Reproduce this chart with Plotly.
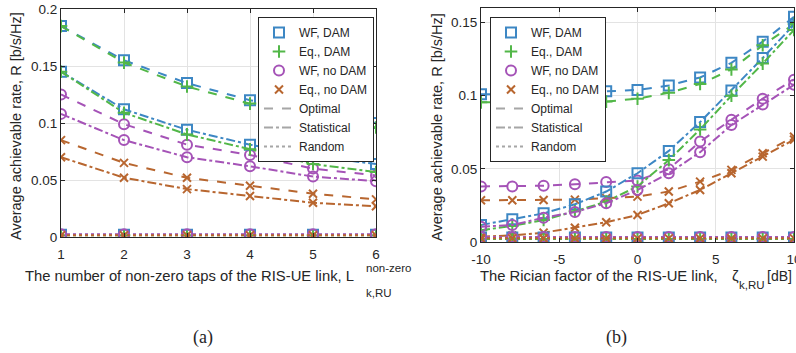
import plotly.graph_objects as go

# ---------------- data ----------------
taps = [1, 2, 3, 4, 5, 6]
wf_dam_opt_a = [0.185, 0.155, 0.135, 0.120, 0.109, 0.100]
eq_dam_opt_a = [0.185, 0.153, 0.132, 0.117, 0.106, 0.096]
wf_dam_stat_a = [0.145, 0.112, 0.094, 0.081, 0.071, 0.064]
eq_dam_stat_a = [0.145, 0.109, 0.090, 0.077, 0.064, 0.057]
wf_nodam_opt_a = [0.125, 0.099, 0.081, 0.072, 0.060, 0.054]
wf_nodam_stat_a = [0.108, 0.085, 0.070, 0.062, 0.053, 0.049]
eq_nodam_opt_a = [0.085, 0.065, 0.052, 0.045, 0.038, 0.033]
eq_nodam_stat_a = [0.070, 0.052, 0.042, 0.036, 0.030, 0.027]
wf_dam_rand_a = [0.002, 0.002, 0.002, 0.002, 0.002, 0.002]
eq_dam_rand_a = [0.0015, 0.0015, 0.0015, 0.0015, 0.0015, 0.0015]
wf_nodam_rand_a = [0.0025, 0.0025, 0.0025, 0.0025, 0.0025, 0.0025]
eq_nodam_rand_a = [0.0015, 0.0015, 0.0015, 0.0015, 0.0015, 0.0015]

zeta = [-10, -8, -6, -4, -2, 0, 2, 4, 6, 8, 10]
wf_dam_opt_b = [0.101, 0.101, 0.1015, 0.102, 0.103, 0.104, 0.107, 0.1125, 0.1225, 0.137, 0.154]
eq_dam_opt_b = [0.0955, 0.0955, 0.0957, 0.096, 0.096, 0.098, 0.102, 0.108, 0.118, 0.1345, 0.149]
wf_dam_stat_b = [0.0116, 0.0155, 0.0196, 0.0258, 0.0345, 0.047, 0.0623, 0.082, 0.1036, 0.1258, 0.1486]
eq_dam_stat_b = [0.008, 0.011, 0.015, 0.021, 0.0276, 0.038, 0.056, 0.077, 0.100, 0.122, 0.145]
wf_nodam_opt_b = [0.038, 0.038, 0.0385, 0.0395, 0.041, 0.042, 0.0498, 0.0687, 0.0836, 0.098, 0.111]
wf_nodam_stat_b = [0.0105, 0.0116, 0.0166, 0.0205, 0.0265, 0.0356, 0.047, 0.0614, 0.080, 0.094, 0.1075]
eq_nodam_opt_b = [0.0285, 0.0285, 0.0287, 0.029, 0.030, 0.031, 0.0345, 0.0413, 0.0493, 0.0607, 0.072]
eq_nodam_stat_b = [0.0036, 0.0045, 0.0064, 0.0098, 0.0135, 0.0185, 0.0265, 0.0356, 0.047, 0.0584, 0.070]
wf_dam_rand_b = [0.003] * 11
eq_dam_rand_b = [0.002] * 11
wf_nodam_rand_b = [0.0035] * 11
eq_nodam_rand_b = [0.0025] * 11

xticks_b = [-10, -5, 0, 5, 10]
xticklabels_b = ["-10", "-5", "0", "5", "10"]
yticks_a = [0, 0.05, 0.1, 0.15, 0.2]
yticklabels_a = ["0", "0.05", "0.1", "0.15", "0.2"]
yticks_b = [0, 0.05, 0.1, 0.15]
yticklabels_b = ["0", "0.05", "0.1", "0.15"]

legend_labels = ["WF, DAM", "Eq., DAM", "WF, no DAM", "Eq., no DAM"]
scheme_labels = ["Optimal", "Statistical", "Random"]

# ---------------- styles ----------------
BLUE = "#3d87c4"
GREEN = "#52b748"
PURPLE = "#a553b7"
BROWN = "#b8662f"
GREY = "#a6a6a6"
TXT = "#262626"
FONT = "Liberation Sans"

series_style = [
    dict(color=BLUE, symbol="square-open", size=10),
    dict(color=GREEN, symbol="cross-thin-open", size=9),
    dict(color=PURPLE, symbol="circle-open", size=10),
    dict(color=BROWN, symbol="x-thin-open", size=8),
]
dash_styles = ["dash", "dashdot", "dot"]

fig = go.Figure()

def add_panel(xs, groups, xa, ya):
    for s_idx, group in enumerate(groups):
        for i, ys in enumerate(group):
            st = series_style[i]
            fig.add_trace(go.Scatter(
                x=xs, y=ys, mode="lines+markers",
                line=dict(color=st["color"], width=2, dash=dash_styles[s_idx]),
                marker=dict(symbol=st["symbol"], size=st["size"], color=st["color"],
                            line=dict(color=st["color"], width=2)),
                xaxis=xa, yaxis=ya, showlegend=False, hoverinfo="skip"))

add_panel(taps, [
    [wf_dam_opt_a, eq_dam_opt_a, wf_nodam_opt_a, eq_nodam_opt_a],
    [wf_dam_stat_a, eq_dam_stat_a, wf_nodam_stat_a, eq_nodam_stat_a],
    [wf_dam_rand_a, eq_dam_rand_a, wf_nodam_rand_a, eq_nodam_rand_a],
], "x", "y")
add_panel(zeta, [
    [wf_dam_opt_b, eq_dam_opt_b, wf_nodam_opt_b, eq_nodam_opt_b],
    [wf_dam_stat_b, eq_dam_stat_b, wf_nodam_stat_b, eq_nodam_stat_b],
    [wf_dam_rand_b, eq_dam_rand_b, wf_nodam_rand_b, eq_nodam_rand_b],
], "x2", "y2")

for lg, xa, ya in [("legend", "x", "y"), ("legend2", "x2", "y2")]:
    for i, lab in enumerate(legend_labels):
        st = series_style[i]
        fig.add_trace(go.Scatter(
            x=[None], y=[None], mode="markers", name=lab, legend=lg,
            marker=dict(symbol=st["symbol"], size=st["size"], color=st["color"],
                        line=dict(color=st["color"], width=2)),
            xaxis=xa, yaxis=ya))
    for s_idx, lab in enumerate(scheme_labels):
        fig.add_trace(go.Scatter(
            x=[None], y=[None], mode="lines", name=lab, legend=lg,
            line=dict(color=GREY, width=2, dash=dash_styles[s_idx]),
            xaxis=xa, yaxis=ya))

W, H = 796, 353
def px_x(p):
    return p / W
def px_y(p):
    return 1 - p / H

axis_common = dict(
    showline=True, linecolor=TXT, linewidth=1, mirror="ticks",
    ticks="inside", ticklen=4, tickcolor=TXT,
    showgrid=True, gridcolor="#e3e3e3", gridwidth=1,
    zeroline=False, tickfont=dict(family=FONT, size=13.5, color=TXT),
    automargin=False, ticklabeloverflow="allow",
)

legend_common = dict(
    bgcolor="white", bordercolor=TXT, borderwidth=1,
    font=dict(family=FONT, size=12, color=TXT),
    xanchor="left", yanchor="top", tracegroupgap=0,
    itemwidth=30,
)

fig.update_layout(
    width=W, height=H, autosize=False,
    margin=dict(l=0, r=0, t=0, b=0, pad=0, autoexpand=False),
    paper_bgcolor="white", plot_bgcolor="white",
    font=dict(family=FONT, color=TXT),
    xaxis=dict(domain=[px_x(61), px_x(376)], range=[1, 6], tickvals=taps,
               anchor="y", ticklabelstandoff=5, **axis_common),
    yaxis=dict(domain=[px_y(237), px_y(9)], range=[0, 0.2],
               tickvals=yticks_a, ticktext=yticklabels_a,
               anchor="x", **axis_common),
    xaxis2=dict(domain=[px_x(481), px_x(794)], range=[-10, 10],
                tickvals=xticks_b, ticktext=xticklabels_b,
                anchor="y2", ticklabelstandoff=5, **axis_common),
    yaxis2=dict(domain=[px_y(242), px_y(8)], range=[0, 0.16],
                tickvals=yticks_b, ticktext=yticklabels_b,
                anchor="x2", **axis_common),
    legend=dict(x=px_x(258), y=px_y(17), **legend_common),
    legend2=dict(x=px_x(490), y=px_y(17), **legend_common),
)

ann = []
def text(x, y, s, size=14.5, angle=0, family=FONT, xanchor="center"):
    ann.append(dict(x=px_x(x), y=px_y(y), xref="paper", yref="paper", text=s,
                    showarrow=False, textangle=angle, xanchor=xanchor, yanchor="middle",
                    font=dict(family=family, size=size, color=TXT)))

text(16, 126, "Average achievable rate, R [b/s/Hz]", angle=-90)
text(437, 127, "Average achievable rate, R [b/s/Hz]", angle=-90)
text(23, 276, "The number of non-zero taps of the RIS-UE link, L", size=14.8, xanchor="left")
text(364, 268, "non-zero", size=11.5, xanchor="left")
text(364, 293, "k,RU", size=11.5, xanchor="left")
text(478, 276, "The Rician factor of the RIS-UE link,", size=14.8, xanchor="left")
text(730, 275, "ζ", size=15, xanchor="left")
text(737, 285, "k,RU", size=11.5, xanchor="left")
text(765, 276, "[dB]", size=14, xanchor="left")
text(203, 337, "(a)", size=18, family="Liberation Serif")
text(616, 337, "(b)", size=18, family="Liberation Serif")
fig.update_layout(annotations=ann)

fig.write_html(
    "out.html",
    config={"displayModeBar": False},
    post_script="document.body.style.margin='0';document.documentElement.style.overflow='hidden';",
)
